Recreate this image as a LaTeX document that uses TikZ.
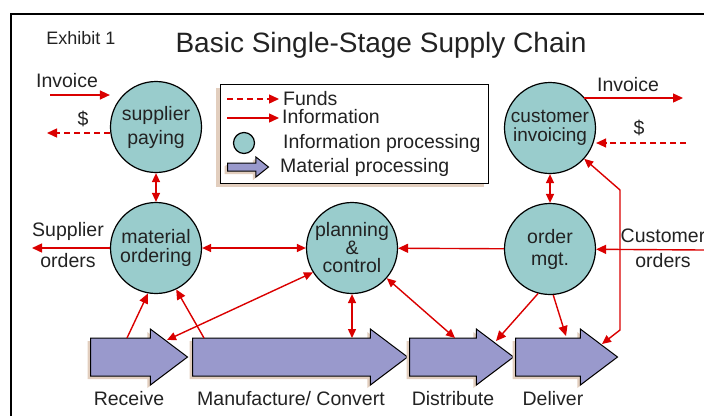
\documentclass[tikz,border=0pt]{standalone}
\usepackage{fontspec}
\setmainfont{Liberation Sans}
\usetikzlibrary{arrows.meta, shapes.arrows, shadows}

\definecolor{infoteal}{RGB}{153,204,204}
\definecolor{matblue}{RGB}{153,153,204}
\definecolor{flowred}{RGB}{218,0,0}
\definecolor{shadowtan}{RGB}{226,206,190}
\definecolor{inkgray}{RGB}{34,34,34}

\tikzset{
  infoproc/.style={circle, draw=black, line width=1.2pt, fill=infoteal, minimum size=91pt,
    inner sep=0pt, align=center, text=inkgray, font=\fontsize{19.5}{21}\selectfont},
  matproc/.style={single arrow, draw=black, line width=1pt, fill=matblue, inner sep=0pt,
    text height=37pt, text depth=0pt, single arrow head extend=9pt, single arrow tip angle=74, anchor=tail,
    drop shadow={shadow xshift=-3pt, shadow yshift=-3pt, fill=shadowtan, opacity=1}},
  info/.style={draw=flowred, line width=1.4pt, -{Triangle[length=10pt,width=9pt]}},
  infoboth/.style={info, {Triangle[length=9pt,width=8pt]}-{Triangle[length=9pt,width=8pt]}},
  funds/.style={info, dash pattern=on 6pt off 4pt},
  lbl/.style={text=inkgray, inner sep=0pt, font=\fontsize{19.5}{21}\selectfont}
}

\begin{document}
\begin{tikzpicture}[x=1pt, y=-1pt]
	\useasboundingbox (0,0) rectangle (704,416);
	
	% Frame
	\draw[line width=2pt] (11,416) -- (11,14) -- (704,14);
	
	% Headings
	\node[lbl, font=\fontsize{18}{20}\selectfont, anchor=base] (exhibit) at (81,44) {Exhibit 1};
	\node[lbl, font=\fontsize{28}{30}\selectfont, anchor=base] (title) at (381,52) {Basic Single-Stage Supply Chain};
	
	% --- LEGEND ---
	\node[draw, line width=1pt, fill=white, minimum width=268pt, minimum height=99pt,
		drop shadow={shadow xshift=-4pt, shadow yshift=-4pt, fill=shadowtan, opacity=1}] (legend) at (354,133.5) {};
	\coordinate (lgfA) at (227,99);
	\coordinate (lgfB) at (279,99);
	\draw[funds] (lgfA) -- (lgfB);
	\node[lbl, anchor=base west] (lgfunds) at (283,105) {Funds};
	\coordinate (lgiA) at (227,118);
	\coordinate (lgiB) at (279,118);
	\draw[info] (lgiA) -- (lgiB);
	\node[lbl, anchor=base west] (lginfo) at (282,123) {Information};
	\node[infoproc, minimum size=21pt] (lgcirc) at (244,143) {};
	\node[lbl, anchor=base west] (lgproc) at (283,148) {Information processing};
	\node[matproc, minimum height=41pt, text height=7pt, single arrow head extend=6pt,
		single arrow tip angle=77, drop shadow={shadow xshift=-2pt, shadow yshift=-2pt, fill=shadowtan, opacity=1}] (lgmat) at (227,167) {};
	\node[lbl, anchor=base west] (lgmatl) at (280,172) {Material processing};
	
	% --- INFORMATION PROCESSING ---
	\node[infoproc, font=\fontsize{19.5}{24}\selectfont] (supp) at (156,127) {supplier\\paying};
	\node[infoproc, font=\fontsize{19}{19}\selectfont] (cinv) at (550,128) {customer\\invoicing};
	\node[infoproc, font=\fontsize{19.5}{19}\selectfont] (mord) at (156,248) {material\\ordering};
	\node[infoproc, font=\fontsize{19.5}{18}\selectfont] (plan) at (352,248) {planning\\\&\\control};
	\node[infoproc, font=\fontsize{19.5}{22}\selectfont] (omgt) at (550,249) {order\\mgt.};
	
	% --- MATERIAL PROCESSING ---
	\node[matproc, minimum height=97pt] (rcv) at (90,357) {};
	\node[matproc, minimum height=215pt] (mfg) at (192,357) {};
	\node[matproc, minimum height=104pt] (dst) at (409,357) {};
	\node[matproc, minimum height=102pt] (dlv) at (515,357) {};
	\node[lbl, anchor=base] (rcvl) at (129,405) {Receive};
	\node[lbl, anchor=base] (mfgl) at (291,405) {Manufacture/ Convert};
	\node[lbl, anchor=base] (dstl) at (453,405) {Distribute};
	\node[lbl, anchor=base] (dlvl) at (553,405) {Deliver};
	
	% Outside ends
	\coordinate (invL) at (50,95);
	\coordinate (dolL) at (47,133);
	\coordinate (supL) at (32,248);
	\coordinate (invR) at (683,98);
	\coordinate (dolR) at (686,143);
	\coordinate (custR) at (704,250);
	% Ends on the material arrows
	\coordinate (rcvA) at (127,338);
	\coordinate (rcvH) at (167,340);
	\coordinate (mfgA) at (204,338);
	\coordinate (mfgT) at (352,338);
	\coordinate (dstT) at (455,338);
	\coordinate (dstH) at (496,341);
	\coordinate (dlvT) at (566,336);
	\coordinate (dlvH) at (602,344);
	\coordinate (fbB) at (620,330);
	\coordinate (fbT) at (620,190);
	
	% --- SUPPLIER SIDE ---
	\draw[info] (invL) -- (invL -| supp.west);
	\draw[funds] (dolL -| supp.west) -- (dolL);
	\node[lbl, anchor=base] (invLt) at (67,87) {Invoice};
	\node[lbl, anchor=base] (dolLt) at (83,125) {\$};
	\draw[infoboth] (supp) -- (mord);
	\draw[info] (mord) -- (supL);
	\node[lbl, align=center, font=\fontsize{19.5}{31}\selectfont] (supLt) at (68,245.5) {Supplier\\orders};
	
	% --- PLANNING LINKS ---
	\draw[infoboth] (mord) -- (plan);
	\draw[info] (rcvA) -- (mord.260);
	\draw[info] (mfgA) -- (mord.296);
	\draw[infoboth] (plan.212) -- (rcvH);
	\draw[infoboth] (plan) -- (mfgT);
	\draw[infoboth] (plan.319) -- (dstT);
	\draw[info] (omgt) -- (plan);
	
	% --- CUSTOMER SIDE ---
	\draw[info] (custR) -- (omgt);
	\node[lbl, align=center, font=\fontsize{19.5}{25}\selectfont] (custt) at (663,248.5) {Customer\\orders};
	\draw[info] (omgt.255) -- (dstH);
	\draw[info] (omgt.274) -- (dlvT);
	\draw[infoboth] (dlvH) -- (fbB) -- (fbT) -- (cinv.318);
	\draw[infoboth] (cinv) -- (omgt);
	\draw[info] (cinv.42 |- invR) -- (invR);
	\draw[funds] (dolR) -- (dolR -| cinv.east);
	\node[lbl, anchor=base] (invRt) at (628,91) {Invoice};
	\node[lbl, anchor=base] (dolRt) at (639,134) {\$};
	
\end{tikzpicture}
\end{document}
